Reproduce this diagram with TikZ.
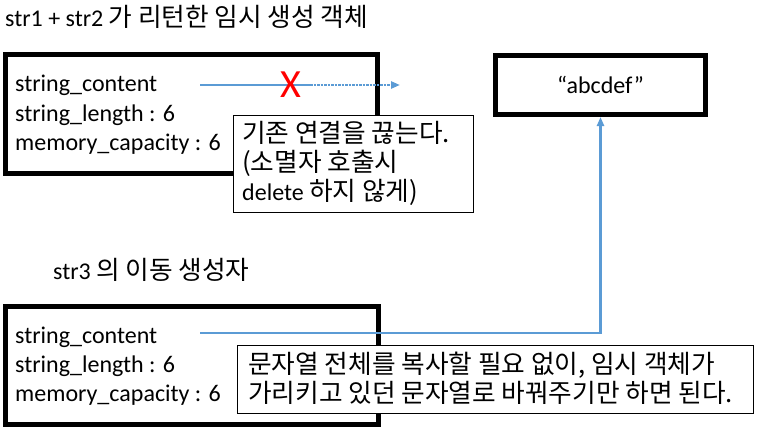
\documentclass[tikz,border=0pt]{standalone}
\usepackage{fontspec}
\setmainfont{Carlito}
\newfontfamily\kr[Scale=1.07]{Noto Sans CJK KR}
\usetikzlibrary{arrows.meta}
\definecolor{linkblue}{RGB}{91,155,213}
\tikzstyle{obj}=[draw=black, line width=5pt, shape=rectangle, inner sep=0pt]
\tikzstyle{note}=[draw=black, line width=1pt, fill=white, shape=rectangle, inner sep=0pt]
\tikzstyle{txt}=[anchor=base west, inner sep=0pt, font=\fontsize{24}{29}\selectfont]
\tikzstyle{link}=[-{Triangle[length=9pt,width=7pt]}, draw=linkblue, line width=2.5pt]

\begin{document}
\begin{tikzpicture}[x=1pt, y=-1pt]
    	\useasboundingbox (0,0) rectangle (768,444);
    	% temporary object returned by str1 + str2
    	\node [style=txt] (title1) at (5,27) {str1 + str2 {\kr 가 리턴한 임시 생성 객체}};
    	\node [style=obj, minimum width=372pt, minimum height=119pt] (tmp) at (191.5,114) {};
    	\node [style=txt] (tmp1) at (15,92) {string\_content};
    	\node [style=txt] (tmp2) at (15,121) {string\_length : 6};
    	\node [style=txt] (tmp3) at (15,150) {memory\_capacity : 6};
    	\coordinate (src1) at (200,85);
    	\coordinate (cut) at (310,85);
    	\coordinate (dst1) at (400,85);
    	\draw [draw=linkblue, line width=2.5pt] (src1) to (cut);
    	\draw [style=link, densely dotted] (cut) to (dst1);
    	\node [text=red, inner sep=0pt, font=\fontsize{40}{40}\selectfont] (cross) at (291,85) {X};
    	\node [style=note, minimum width=240pt, minimum height=97pt] (note1) at (353,163.5) {};
    	\node [style=txt] (note1a) at (242,142) {\kr 기존 연결을 끊는다.};
    	\node [style=txt] (note1b) at (242,171) {\kr (소멸자 호출시};
    	\node [style=txt] (note1c) at (242,200) {delete {\kr 하지 않게)}};
    	% string data
    	\node [style=obj, minimum width=210pt, minimum height=59pt, font=\fontsize{24}{29}\selectfont] (abc) at (600.5,85) {“abcdef”};
    	% str3 built by the move constructor
    	\node [style=txt] (title2) at (53,279) {str3 {\kr 의 이동 생성자}};
    	\node [style=obj, minimum width=373pt, minimum height=118pt] (str3) at (192,365) {};
    	\node [style=txt] (str3a) at (15,343) {string\_content};
    	\node [style=txt] (str3b) at (15,372) {string\_length : 6};
    	\node [style=txt] (str3c) at (15,401) {memory\_capacity : 6};
    	\coordinate (src2) at (200,333);
    	\draw [style=link] (src2) -| (abc.south);
    	\node [style=note, minimum width=516pt, minimum height=68pt] (note2) at (495,379) {};
    	\node [style=txt] (note2a) at (248,373) {\kr 문자열 전체를 복사할 필요 없이, 임시 객체가};
    	\node [style=txt] (note2b) at (248,402) {\kr 가리키고 있던 문자열로 바꿔주기만 하면 된다.};
    \end{tikzpicture}
\end{document}
